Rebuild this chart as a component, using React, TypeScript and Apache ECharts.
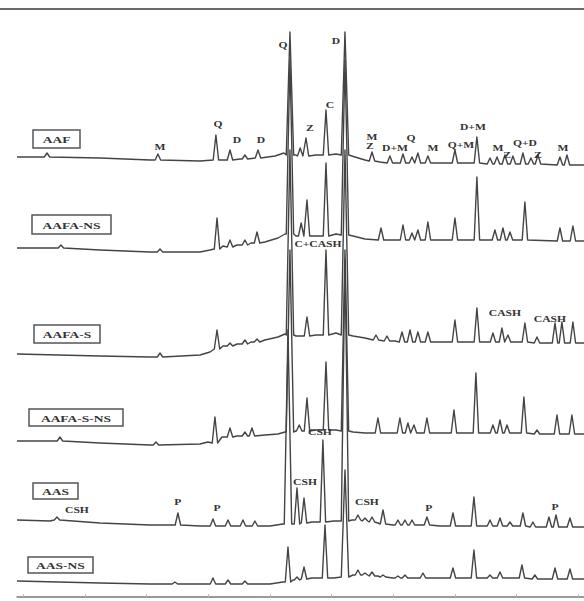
import React, { useEffect, useRef } from "react";
import * as echarts from "echarts";

// ---- DATA (2θ in degrees, intensity in a.u. including the stacking offset) ----
const TRACE_NAMES = ["AAF", "AAFA-NS", "AAFA-S", "AAFA-S-NS", "AAS", "AAS-NS"];

// baseline knots: [2θ, intensity]
const AAF_BASE = [
  [4.5, 440], [11.22, 439], [15.28, 437], [19.33, 436], [22.57, 438], [25.41, 441], [26.13, 444],
  [27.11, 442], [28.73, 442], [30.35, 443], [31.89, 440], [32.7, 437], [33.91, 435], [38.78, 434], [50.45, 432],
];
// peaks: [2θ, top, foot]
const AAF_PEAKS = [
  [6.93, 444, 440], [15.92, 443, 437], [20.62, 462, 437], [21.76, 447, 437], [22.97, 442, 438], [24.03, 447, 439],
  [26.62, 565, 442], [27.45, 449, 441], [27.92, 459, 441], [29.54, 487, 442], [31.08, 565, 442],
  [33.27, 445, 436], [34.72, 441, 434], [35.78, 443, 434], [36.51, 440, 434], [36.99, 444, 434], [37.8, 441, 434],
  [39.99, 447, 434], [41.77, 460, 434], [42.83, 439, 433], [43.4, 440, 433], [44.04, 442, 433], [44.69, 441, 433],
  [45.5, 444, 433], [46.15, 439, 433], [46.72, 442, 433], [48.5, 440, 432], [49.07, 442, 432],
];

const AAFA_NS_BASE = [
  [4.5, 349], [11.22, 347], [15.28, 345], [19.33, 345], [20.14, 347], [21.19, 351], [22.33, 352], [23.46, 354],
  [24.59, 355], [25.65, 359], [26.22, 363], [27.11, 361], [28.65, 361], [30.35, 363], [31.73, 361], [32.7, 358],
  [35.13, 357], [38.78, 357], [50.45, 356],
];
const AAFA_NS_PEAKS = [
  [8.06, 352, 349], [16.09, 348, 345], [20.71, 379, 348], [21.76, 357, 350], [22.97, 357, 352], [23.95, 365, 354],
  [26.62, 537, 363], [27.53, 374, 361], [28.0, 397, 361], [29.54, 434, 361], [31.08, 537, 362],
  [34.0, 369, 357], [35.78, 372, 357], [36.51, 364, 357], [36.99, 367, 357], [37.8, 375, 357], [39.99, 379, 357],
  [41.77, 420, 357], [43.23, 367, 357], [43.88, 369, 357], [44.45, 365, 357], [45.66, 395, 357],
  [48.5, 369, 356], [49.55, 371, 356],
];

const AAFA_S_BASE = [
  [4.5, 243], [11.22, 241], [15.28, 240], [19.33, 242], [20.14, 245], [21.19, 251], [22.33, 253], [23.46, 255],
  [24.59, 257], [25.65, 260], [26.22, 263], [27.11, 261], [28.73, 262], [30.35, 264], [31.73, 261], [32.7, 259],
  [35.13, 256], [38.78, 255], [50.45, 254],
];
const AAFA_S_PEAKS = [
  [16.09, 244, 240], [20.71, 267, 248], [21.76, 254, 251], [22.97, 257, 253], [23.95, 258, 255],
  [26.62, 447, 262], [28.0, 280, 261], [29.54, 347, 262], [31.08, 447, 262],
  [33.59, 262, 257], [34.48, 261, 256], [35.7, 265, 255], [36.35, 267, 255], [36.99, 265, 255], [37.8, 265, 255],
  [39.99, 277, 255], [41.77, 289, 255], [43.07, 264, 255], [43.8, 269, 255], [44.29, 262, 255], [45.66, 274, 255],
  [46.64, 260, 254], [48.1, 274, 254], [48.66, 275, 254], [49.55, 275, 254],
];

const AAFA_S_NS_BASE = [
  [4.5, 156], [11.22, 154], [15.28, 152], [19.33, 153], [19.98, 155], [21.11, 160], [22.33, 161], [24.59, 162],
  [25.65, 163], [26.22, 165], [27.09, 166], [28.73, 167], [30.35, 167], [31.73, 165], [32.7, 164], [35.13, 164],
  [38.78, 164], [50.45, 163],
];
const AAFA_S_NS_PEAKS = [
  [7.98, 160, 156], [15.76, 155, 152], [20.54, 180, 154], [21.76, 169, 160], [22.97, 165, 161], [23.54, 169, 161],
  [26.62, 347, 165], [27.37, 172, 166], [28.0, 199, 166], [29.54, 235, 167], [31.08, 347, 166],
  [33.75, 179, 164], [35.53, 179, 164], [36.18, 174, 164], [36.67, 172, 164], [37.72, 179, 164], [39.91, 187, 164],
  [41.69, 224, 164], [43.07, 172, 164], [43.64, 177, 164], [44.21, 172, 164], [45.58, 200, 164],
  [46.64, 167, 163], [48.26, 182, 163], [49.47, 182, 163],
];

const AAS_BASE = [
  [4.5, 77], [7.17, 76], [11.22, 74], [15.28, 72], [19.33, 71], [25.0, 71], [26.05, 73], [26.86, 73],
  [28.4, 75], [30.19, 76], [31.65, 77], [33.75, 74], [34.97, 72], [38.78, 71], [50.45, 70],
];
const AAS_PEAKS = [
  [7.74, 80, 77], [17.54, 84, 72], [20.38, 78, 71], [21.6, 77, 71], [22.81, 77, 71], [23.78, 76, 71],
  [26.46, 267, 73], [27.19, 109, 73], [27.76, 99, 74], [29.29, 157, 75], [31.08, 337, 76],
  [32.13, 82, 77], [32.7, 79, 76], [33.27, 80, 75], [34.16, 87, 73], [35.37, 77, 72], [35.94, 77, 72],
  [36.51, 77, 72], [37.72, 80, 72], [39.83, 84, 71], [41.53, 100, 71], [42.83, 77, 71], [43.64, 79, 71],
  [44.45, 75, 71], [45.5, 84, 71], [46.31, 75, 70], [47.61, 80, 70], [48.18, 82, 70], [49.31, 79, 70],
];

const AAS_NS_BASE = [
  [4.5, 16], [11.22, 14], [15.28, 13], [19.33, 13], [25.0, 13], [26.05, 15], [26.86, 17], [28.4, 19],
  [30.19, 19], [31.73, 22], [33.75, 21], [34.97, 19], [38.78, 19], [50.45, 18],
];
const AAS_NS_PEAKS = [
  [17.3, 15, 13], [20.38, 19, 13], [21.6, 17, 13], [22.97, 16, 13],
  [26.46, 50, 15], [27.19, 20, 17], [27.76, 30, 18], [29.46, 72, 19], [31.08, 127, 20],
  [32.13, 27, 22], [32.7, 24, 22], [33.27, 25, 21], [34.16, 22, 20], [35.37, 21, 19], [35.94, 22, 19],
  [37.4, 24, 19], [39.83, 29, 19], [41.53, 47, 19], [42.83, 22, 19], [43.64, 25, 19], [45.42, 32, 19],
  [46.47, 22, 18], [48.1, 29, 18], [49.31, 28, 18],
];

// phase labels: [text, 2θ, intensity]
const PHASE_LABELS = [
  ["M", 16.09, 450], ["Q", 20.79, 473], ["D", 22.33, 457], ["D", 24.27, 457], ["Q", 26.05, 552],
  ["Z", 28.24, 469], ["C", 29.86, 492], ["D", 30.35, 556], ["M", 33.27, 460], ["Z", 33.1, 451],
  ["D+M", 35.13, 449], ["Q", 36.43, 459], ["M", 38.21, 449], ["Q+M", 40.48, 452], ["D+M", 41.45, 470],
  ["M", 43.48, 449], ["Z", 44.21, 442], ["Q+D", 45.66, 454], ["Z", 46.72, 442], ["M", 48.74, 449],
  ["C+CASH", 28.89, 353], ["CASH", 44.04, 284], ["CASH", 47.69, 278],
  ["CSH", 9.36, 87], ["P", 17.54, 95], ["P", 20.71, 89], ["CSH", 27.84, 115], ["CSH", 29.05, 165],
  ["CSH", 32.86, 95], ["P", 37.88, 89], ["P", 48.1, 90],
];

const TICKS_2THETA = [5, 10, 15, 20, 25, 30, 35, 40, 45, 50];

// ---- LAYOUT / STYLE ----
const TRACES = [
  [AAF_BASE, AAF_PEAKS], [AAFA_NS_BASE, AAFA_NS_PEAKS], [AAFA_S_BASE, AAFA_S_PEAKS],
  [AAFA_S_NS_BASE, AAFA_S_NS_PEAKS], [AAS_BASE, AAS_PEAKS], [AAS_NS_BASE, AAS_NS_PEAKS],
];
const NAME_BOXES = [
  { x: 33, y: 130, w: 47, h: 18 },
  { x: 32, y: 215, w: 79, h: 19 },
  { x: 34, y: 325, w: 66, h: 18 },
  { x: 29, y: 409, w: 94, h: 17 },
  { x: 33, y: 483, w: 45, h: 16 },
  { x: 28, y: 557, w: 65, h: 16 },
];
const SERIF = '"Liberation Serif", "DejaVu Serif", serif';
const TEXT_STRETCH = 1.45;

function buildTrace(base: number[][], peaks: number[][]) {
  const pts = base.map((p) => [p[0], p[1]]);
  peaks.forEach(([x, top, foot]) => {
    const hw = top - foot > 100 ? 0.3 : 0.22;
    pts.push([x - hw, foot], [x, top], [x + hw, foot]);
  });
  pts.sort((a, b) => a[0] - b[0]);
  return pts;
}

export default function App() {
  const ref = useRef<HTMLDivElement>(null);
  useEffect(() => {
    document.body.style.margin = "0";
    const chart = echarts.init(ref.current!, null, { renderer: "svg" });
    const series: any[] = TRACES.map(([b, p], i) => ({
      name: TRACE_NAMES[i],
      type: "line",
      data: buildTrace(b as number[][], p as number[][]),
      showSymbol: false,
      symbol: "none",
      silent: true,
      lineStyle: { color: "#444", width: 1.4, join: "round" },
      z: 2,
    }));
    chart.setOption({
      animation: false,
      backgroundColor: "#fff",
      grid: { left: 17, right: 0, top: 9, bottom: 4 },
      xAxis: {
        type: "value",
        min: 4.5,
        max: 50.45,
        axisLine: { show: true, lineStyle: { color: "#777", width: 1.5 } },
        axisTick: { show: true, customValues: TICKS_2THETA, length: 3, inside: true, lineStyle: { color: "#bbb" } },
        axisLabel: { show: false },
        splitLine: { show: false },
      },
      yAxis: { type: "value", min: 0, max: 588, show: false },
      series,
    });

    const graphic: any[] = [
      {
        type: "line",
        shape: { x1: 0, y1: 9, x2: 584, y2: 9 },
        style: { stroke: "#6a6a6a", lineWidth: 2 },
        z: 10,
      },
    ];
    NAME_BOXES.forEach((b, i) => {
      graphic.push({
        type: "rect",
        shape: { x: b.x, y: b.y, width: b.w, height: b.h },
        style: { fill: "#fff", stroke: "#555", lineWidth: 1.5 },
        z: 10,
      });
      graphic.push({
        type: "text",
        x: b.x + b.w / 2,
        y: b.y + b.h / 2 + 1,
        scaleX: 1.5,
        style: {
          text: TRACE_NAMES[i],
          font: `bold 9px ${SERIF}`,
          fill: "#333",
          align: "center",
          verticalAlign: "middle",
          textAlign: "center",
          textVerticalAlign: "middle",
        },
        z: 11,
      });
    });
    PHASE_LABELS.forEach(([t, x, y]) => {
      const pt = chart.convertToPixel({ gridIndex: 0 }, [x as number, y as number]) as number[];
      graphic.push({
        type: "text",
        x: pt[0],
        y: pt[1],
        scaleX: TEXT_STRETCH,
        style: {
          text: t,
          font: `bold 8px ${SERIF}`,
          fill: "#333",
          align: "center",
          verticalAlign: "middle",
          textAlign: "center",
          textVerticalAlign: "middle",
        },
        z: 12,
      });
    });
    chart.setOption({ graphic });
    return () => chart.dispose();
  }, []);
  return <div ref={ref} style={{ width: 584, height: 601 }} />;
}
